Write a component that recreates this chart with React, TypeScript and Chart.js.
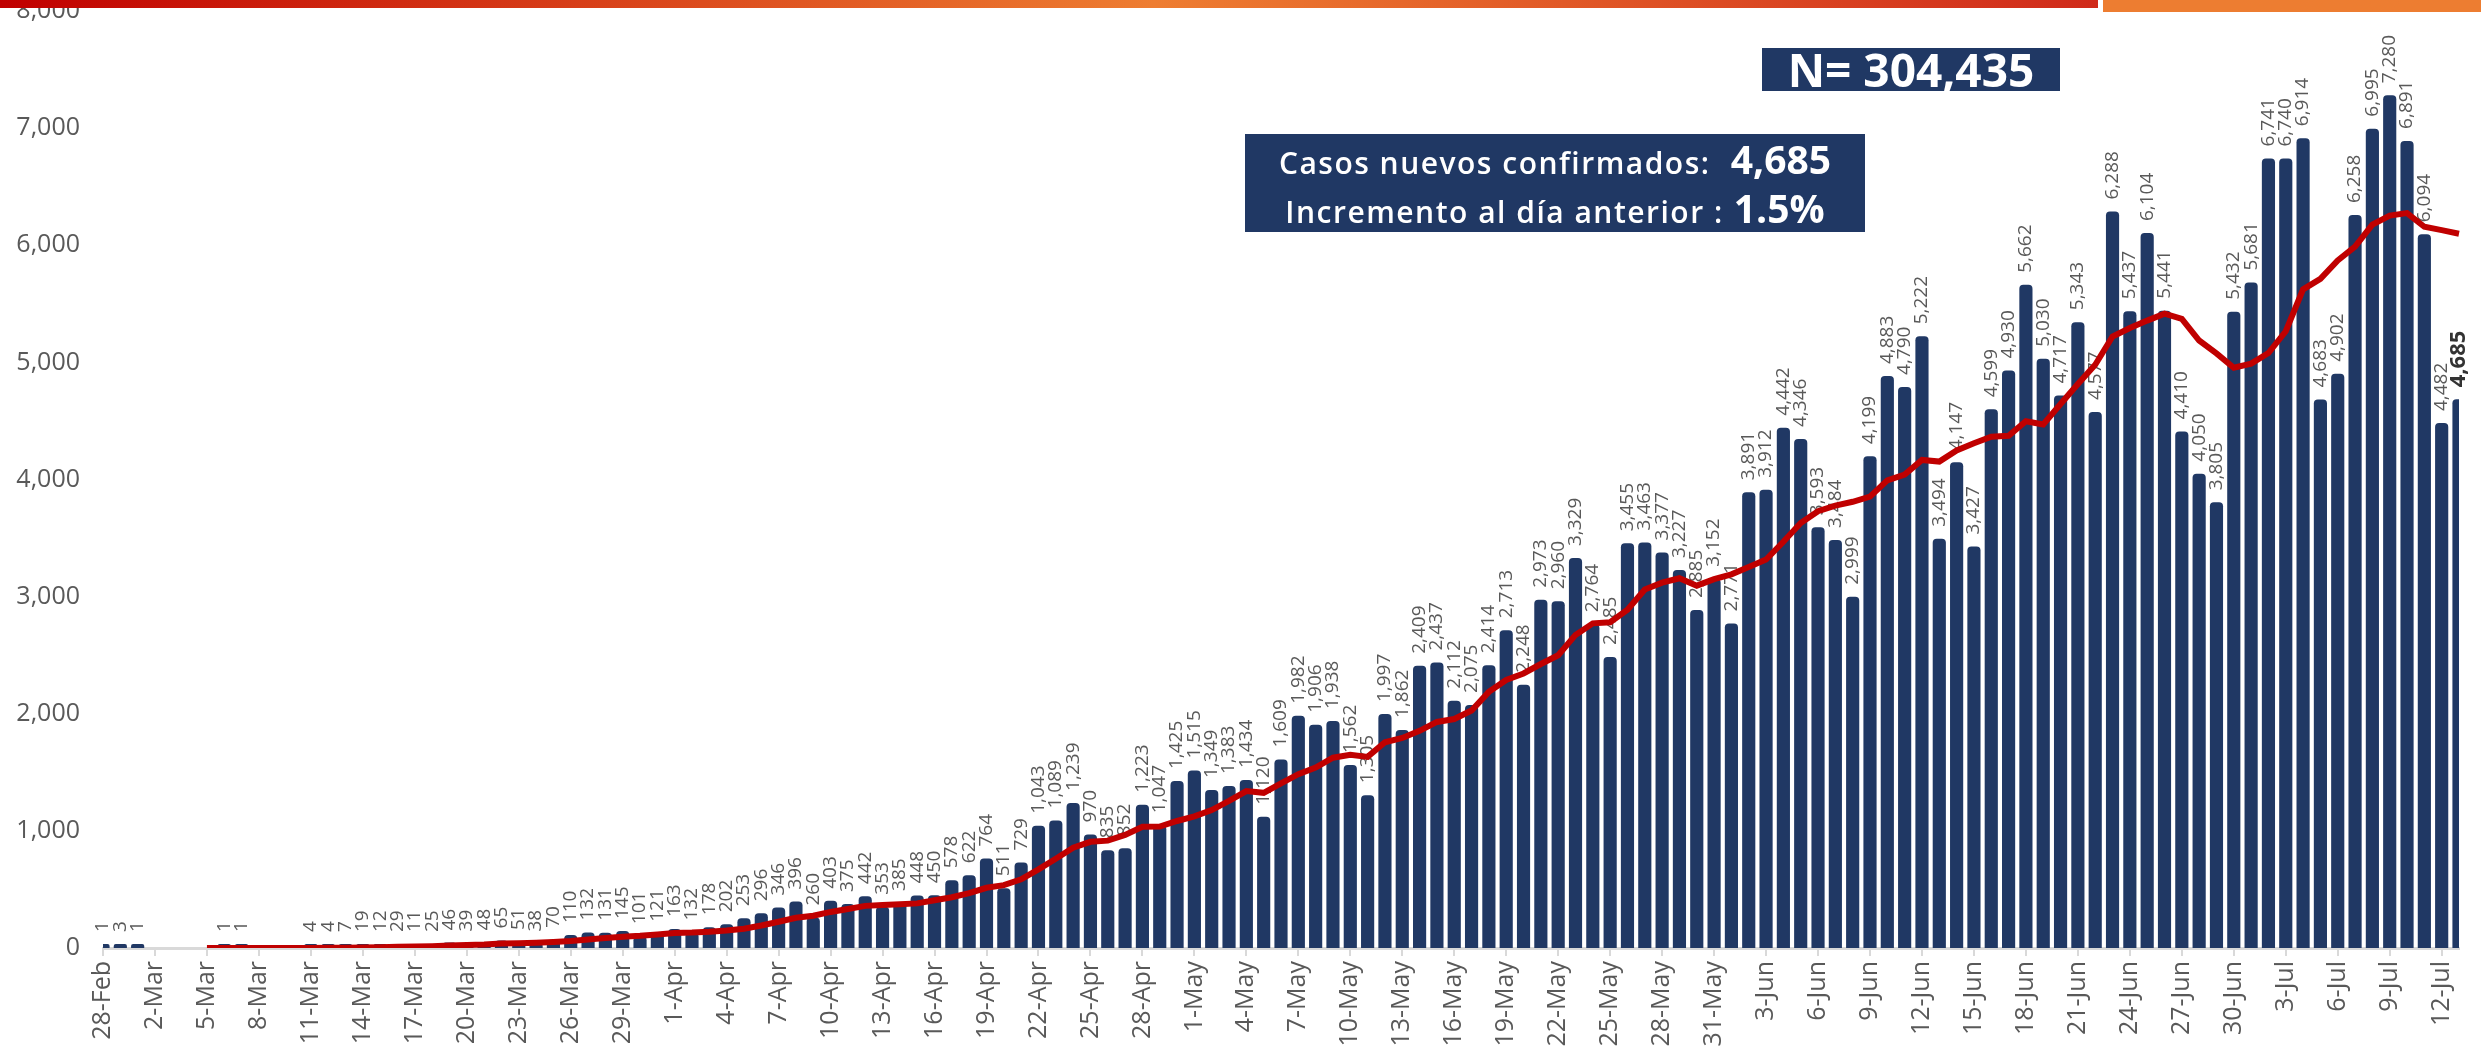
import React, { useEffect, useRef } from "react";
import { Chart, registerables } from "chart.js";

Chart.register(...registerables);

const dateLabels: string[] = [
  "28-Feb", "29-Feb",
  "1-Mar", "2-Mar", "3-Mar", "4-Mar", "5-Mar", "6-Mar", "7-Mar", "8-Mar", "9-Mar", "10-Mar",
  "11-Mar", "12-Mar", "13-Mar", "14-Mar", "15-Mar", "16-Mar", "17-Mar", "18-Mar", "19-Mar", "20-Mar",
  "21-Mar", "22-Mar", "23-Mar", "24-Mar", "25-Mar", "26-Mar", "27-Mar", "28-Mar", "29-Mar", "30-Mar", "31-Mar",
  "1-Apr", "2-Apr", "3-Apr", "4-Apr", "5-Apr", "6-Apr", "7-Apr", "8-Apr", "9-Apr", "10-Apr",
  "11-Apr", "12-Apr", "13-Apr", "14-Apr", "15-Apr", "16-Apr", "17-Apr", "18-Apr", "19-Apr", "20-Apr",
  "21-Apr", "22-Apr", "23-Apr", "24-Apr", "25-Apr", "26-Apr", "27-Apr", "28-Apr", "29-Apr", "30-Apr",
  "1-May", "2-May", "3-May", "4-May", "5-May", "6-May", "7-May", "8-May", "9-May", "10-May",
  "11-May", "12-May", "13-May", "14-May", "15-May", "16-May", "17-May", "18-May", "19-May", "20-May",
  "21-May", "22-May", "23-May", "24-May", "25-May", "26-May", "27-May", "28-May", "29-May", "30-May", "31-May",
  "1-Jun", "2-Jun", "3-Jun", "4-Jun", "5-Jun", "6-Jun", "7-Jun", "8-Jun", "9-Jun", "10-Jun",
  "11-Jun", "12-Jun", "13-Jun", "14-Jun", "15-Jun", "16-Jun", "17-Jun", "18-Jun", "19-Jun", "20-Jun",
  "21-Jun", "22-Jun", "23-Jun", "24-Jun", "25-Jun", "26-Jun", "27-Jun", "28-Jun", "29-Jun", "30-Jun",
  "1-Jul", "2-Jul", "3-Jul", "4-Jul", "5-Jul", "6-Jul", "7-Jul", "8-Jul", "9-Jul", "10-Jul",
  "11-Jul", "12-Jul", "13-Jul",
];

const dailyCases: number[] = [
  1, 3,
  1, 0, 0, 0, 0, 1, 1, 0, 0, 0,
  4, 4, 7, 19, 12, 29, 11, 25, 46, 39,
  48, 65, 51, 38, 70, 110, 132, 131, 145, 101, 121,
  163, 132, 178, 202, 253, 296, 346, 396, 260, 403,
  375, 442, 353, 385, 448, 450, 578, 622, 764, 511,
  729, 1043, 1089, 1239, 970, 835, 852, 1223, 1047, 1425,
  1515, 1349, 1383, 1434, 1120, 1609, 1982, 1906, 1938, 1562,
  1305, 1997, 1862, 2409, 2437, 2112, 2075, 2414, 2713, 2248,
  2973, 2960, 3329, 2764, 2485, 3455, 3463, 3377, 3227, 2885, 3152,
  2771, 3891, 3912, 4442, 4346, 3593, 3484, 2999, 4199, 4883,
  4790, 5222, 3494, 4147, 3427, 4599, 4930, 5662, 5030, 4717,
  5343, 4577, 6288, 5437, 6104, 5441, 4410, 4050, 3805, 5432,
  5681, 6741, 6740, 6914, 4683, 4902, 6258, 6995, 7280, 6891,
  6094, 4482, 4685,
];

const movingAverage: (number | null)[] = [
  null, null, null, null, null, null,
  0.7, 0.7, 0.4, 0.3, 0.3, 0.3,
  0.9, 1.4, 2.3, 4.9, 6.6, 10.7, 12.3, 15.3, 21.3, 25.9,
  30.0, 37.6, 40.7, 44.6, 51.0, 60.1, 73.4, 85.3, 96.7, 103.9, 115.7,
  129.0, 132.1, 138.7, 148.9, 164.3, 192.1, 224.3, 257.6, 275.9, 308.0,
  332.7, 359.7, 367.9, 373.4, 380.9, 408.0, 433.0, 468.3, 514.3, 536.9,
  586.0, 671.0, 762.3, 856.7, 906.4, 916.6, 965.3, 1035.9, 1036.4, 1084.4,
  1123.9, 1178.0, 1256.3, 1339.4, 1324.7, 1405.0, 1484.6, 1540.4, 1624.6, 1650.1,
  1631.7, 1757.0, 1793.1, 1854.1, 1930.0, 1954.9, 2028.1, 2186.6, 2288.9, 2344.0,
  2424.6, 2499.3, 2673.1, 2771.6, 2781.7, 2887.7, 3061.3, 3119.0, 3157.1, 3093.7, 3149.1,
  3190.0, 3252.3, 3316.4, 3468.6, 3628.4, 3729.6, 3777.0, 3809.6, 3853.6, 3992.3,
  4042.0, 4167.1, 4153.0, 4247.7, 4308.9, 4366.0, 4372.7, 4497.3, 4469.9, 4644.6,
  4815.4, 4979.7, 5221.0, 5293.4, 5356.6, 5415.3, 5371.4, 5186.7, 5076.4, 4954.1,
  4989.0, 5080.0, 5265.6, 5623.3, 5713.7, 5870.4, 5988.4, 6176.1, 6253.1, 6274.7,
  6157.6, 6128.9, 6097.9,
];

const yMin = 0;
const yMax = 8000;
const yStep = 1000;

const totalText = "N= 304,435";
const newCasesLabel = "Casos nuevos confirmados:";
const newCasesValue = "4,685";
const incrementLabel = "Incremento al día anterior :";
const incrementValue = "1.5%";

const NAVY = "#203864";
const RED = "#C00000";
const GREY_TEXT = "#595959";
const FONT = "'Open Sans', 'Noto Sans', sans-serif";

const valueLabelPlugin = {
  id: "valueLabels",
  afterDatasetDraw(chart: any, args: any) {
    if (args.index !== 0) return;
    const ctx = chart.ctx;
    const meta = args.meta;
    const lastIdx = dailyCases.length - 1;
    meta.data.forEach((bar: any, i: number) => {
      const v = dailyCases[i];
      if (!v) return;
      const last = i === lastIdx;
      ctx.save();
      ctx.translate(bar.x, bar.y - 12);
      ctx.rotate(-Math.PI / 2);
      ctx.font = last ? `bold 22px ${FONT}` : `19px ${FONT}`;
      ctx.fillStyle = last ? "#333333" : GREY_TEXT;
      ctx.textAlign = "left";
      ctx.textBaseline = "middle";
      ctx.fillText(v.toLocaleString("en-US"), 0, 0);
      ctx.restore();
    });
  },
};

export default function App() {
  const canvasRef = useRef<HTMLCanvasElement | null>(null);

  useEffect(() => {
    if (!canvasRef.current) return;
    const chart = new Chart(canvasRef.current, {
      type: "bar",
      data: {
        labels: dateLabels,
        datasets: [
          {
            type: "bar",
            label: "Casos",
            data: dailyCases.map((v) => (v === 0 ? null : v)),
            backgroundColor: NAVY,
            borderRadius: { topLeft: 4, topRight: 4, bottomLeft: 0, bottomRight: 0 },
            borderSkipped: "start",
            barPercentage: 0.76,
            categoryPercentage: 1,
            minBarLength: 4,
            order: 1,
          } as any,
          {
            type: "line",
            label: "Promedio",
            data: movingAverage,
            borderColor: RED,
            backgroundColor: RED,
            borderWidth: 6,
            pointRadius: 0,
            tension: 0,
            fill: false,
            order: 0,
          } as any,
        ],
      },
      options: {
        responsive: false,
        devicePixelRatio: 1,
        animation: false,
        layout: { padding: { top: 11, right: 27, bottom: 0, left: 0 } },
        plugins: {
          legend: { display: false },
          tooltip: { enabled: false },
        },
        scales: {
          x: {
            type: "category",
            offset: false,
            grid: {
              display: true,
              drawOnChartArea: false,
              offset: false,
              color: "#D9D9D9",
              lineWidth: 2,
              tickLength: 8,
            },
            border: { display: true, color: "#D9D9D9", width: 3 },
            ticks: {
              autoSkip: false,
              maxRotation: 90,
              minRotation: 90,
              padding: 5,
              color: GREY_TEXT,
              font: { family: FONT, size: 25 },
              callback: (_v: any, idx: number) => (idx % 3 === 0 ? dateLabels[idx] : null),
            },
            afterFit: (s: any) => {
              s.height = 104;
              s.paddingLeft = 0;
              s.paddingRight = 0;
            },
          },
          y: {
            min: yMin,
            max: yMax,
            grid: { display: false, drawTicks: false },
            border: { display: false },
            ticks: {
              stepSize: yStep,
              padding: 23,
              color: GREY_TEXT,
              font: { family: FONT, size: 25 },
              callback: (v: any) => Number(v).toLocaleString("en-US"),
            },
            afterFit: (s: any) => {
              s.width = 103;
              s.paddingTop = 0;
              s.paddingBottom = 0;
            },
          },
        },
      } as any,
      plugins: [valueLabelPlugin],
    });
    return () => chart.destroy();
  }, []);

  return (
    <div
      style={{
        position: "absolute",
        left: 0,
        top: 0,
        width: 2486,
        height: 1052,
        background: "#ffffff",
        overflow: "hidden",
      }}
    >
      <canvas
        ref={canvasRef}
        width={2486}
        height={1052}
        style={{ position: "absolute", left: 0, top: 0 }}
      />
      <div
        style={{
          position: "absolute",
          left: 0,
          top: 0,
          width: 2098,
          height: 8,
          background: "linear-gradient(to right, #C00000 0%, #EE7D31 55%, #D02A1A 100%)",
        }}
      />
      <div
        style={{
          position: "absolute",
          left: 2103,
          top: 0,
          width: 378,
          height: 12,
          background: "#ED7D31",
        }}
      />
      <div
        style={{
          position: "absolute",
          left: 1762,
          top: 48,
          width: 298,
          height: 43,
          background: NAVY,
          color: "#ffffff",
          fontFamily: FONT,
          fontWeight: 700,
          fontSize: 46,
          lineHeight: "43px",
          textAlign: "center",
          whiteSpace: "nowrap",
        }}
      >
        {totalText}
      </div>
      <div
        style={{
          position: "absolute",
          left: 1245,
          top: 134,
          width: 620,
          height: 98,
          background: NAVY,
          color: "#ffffff",
          fontFamily: FONT,
          display: "flex",
          flexDirection: "column",
          justifyContent: "center",
          alignItems: "center",
          whiteSpace: "nowrap",
        }}
      >
        <div style={{ height: 49, lineHeight: "49px" }}>
          <span style={{ fontSize: 30, fontWeight: 600, letterSpacing: 1.5 }}>{newCasesLabel}</span>
          <span style={{ fontSize: 39, fontWeight: 700 }}>{"\u00a0\u00a0" + newCasesValue}</span>
        </div>
        <div style={{ height: 49, lineHeight: "49px" }}>
          <span style={{ fontSize: 30, fontWeight: 600, letterSpacing: 1.5 }}>{incrementLabel}</span>
          <span style={{ fontSize: 39, fontWeight: 700 }}>{"\u00a0" + incrementValue}</span>
        </div>
      </div>
    </div>
  );
}
